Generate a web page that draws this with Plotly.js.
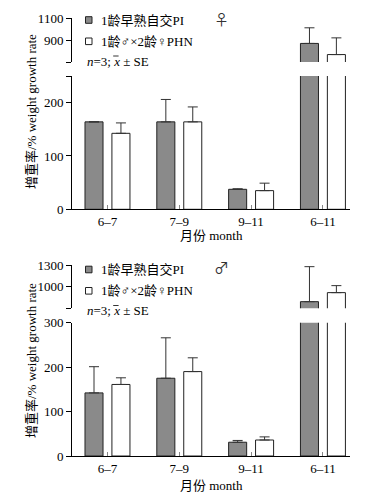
<!DOCTYPE html>
<html><head><meta charset="utf-8">
<script src="https://cdn.plot.ly/plotly-3.0.1.min.js"></script>
<style>html,body{margin:0;padding:0;background:#fff}#chart{width:374px;height:499px}</style>
</head><body><div id="chart"></div>
<script>
// categories
const months = ['6–7', '7–9', '9–11', '6–11'];
const seriesNames = ['1龄早熟自交PI', '1龄♂×2龄♀PHN'];
// female (top panel)
const femalePI = [164, 164, 37.5, 870];
const femalePIse = [0, 42, 1, 143];
const femalePHN = [142.5, 164, 35, 768];
const femalePHNse = [19.5, 28, 14, 153];
// male (bottom panel)
const malePI = [142, 175, 31, 792];
const malePIse = [59, 91, 4, 485];
const malePHN = [161, 190, 36, 917];
const malePHNse = [15, 31, 7, 97];
// tick labels
const topLowTicks = [0, 100, 200, 250], topLowText = ['0', '100', '200', ''];
const topHighTicks = [700, 900, 1100], topHighText = ['', '900', '1100'];
const botLowTicks = [0, 100, 200, 300], botLowText = ['0', '100', '200', '300'];
const botHighTicks = [700, 1000, 1300], botHighText = ['', '1000', '1300'];

const W = 374, H = 499;
const px = v => v / W;
const py = v => 1 - v / H;
const FONT = 'Liberation Serif, Times New Roman, Noto Sans CJK SC, serif';
const PIcolor = '#8a8a8a';

function bar(x, y, se, name, xa, ya, fill) {
  return {
    type: 'bar', x: x, y: y, name: name, xaxis: xa, yaxis: ya, showlegend: false,
    marker: {color: fill, line: {color: '#222', width: 1}},
    error_y: {type: 'data', array: se, arrayminus: se.map(() => 0), symmetric: false,
              color: '#333', thickness: 1, width: 5},
    hoverinfo: 'skip'
  };
}
const traces = [];
[['x', 'y'], ['x', 'y2']].forEach(([xa, ya]) => {
  traces.push(bar(months, femalePI, femalePIse, seriesNames[0], xa, ya, PIcolor));
  traces.push(bar(months, femalePHN, femalePHNse, seriesNames[1], xa, ya, '#ffffff'));
});
[['x2', 'y3'], ['x2', 'y4']].forEach(([xa, ya]) => {
  traces.push(bar(months, malePI, malePIse, seriesNames[0], xa, ya, PIcolor));
  traces.push(bar(months, malePHN, malePHNse, seriesNames[1], xa, ya, '#ffffff'));
});

const xBase = {
  range: [-0.494, 3.377], showline: true, linecolor: '#000', linewidth: 1,
  ticks: 'inside', ticklen: 4, tickcolor: '#888', tickwidth: 1,
  showgrid: false, zeroline: false, tickfont: {family: FONT, size: 13, color: '#000'},
  domain: [px(72), px(350)], fixedrange: true
};
function yAx(range, dom, tv, tt, anchor) {
  return {
    range: range, domain: dom, anchor: anchor, showline: true, linecolor: '#000', linewidth: 1,
    ticks: 'outside', ticklen: 5, tickcolor: '#000', tickvals: tv, ticktext: tt,
    showgrid: false, zeroline: false, tickfont: {family: FONT, size: 13, color: '#000'}
  };
}
const layout = {
  width: W, height: H, margin: {l: 0, r: 0, t: 0, b: 0},
  paper_bgcolor: '#fff', plot_bgcolor: 'rgba(0,0,0,0)',
  barmode: 'group', bargap: 0.25, bargroupgap: 0.33,
  font: {family: FONT, size: 13, color: '#000'},
  xaxis: Object.assign({}, xBase, {anchor: 'y'}),
  xaxis2: Object.assign({}, xBase, {anchor: 'y3'}),
  yaxis: yAx([0, 250], [py(209.3), py(76)], topLowTicks, topLowText, 'x'),
  yaxis2: yAx([700, 1100], [py(62), py(18.3)], topHighTicks, topHighText, 'x'),
  yaxis3: yAx([0, 300], [py(456), py(322.7)], botLowTicks, botLowText, 'x2'),
  yaxis4: yAx([700, 1300], [py(308.3), py(265)], botHighTicks, botHighText, 'x2'),
  annotations: [], shapes: []
};
const panels = [
  {top: 20, sym: '♀', symY: 18, titleY: 112, xTitleY: 235},
  {top: 269.5, sym: '♂', symY: 266, titleY: 361, xTitleY: 485}
];
panels.forEach(p => {
  const lines = [seriesNames[0], seriesNames[1], '<i>n</i>=3; <i>x</i> ± SE'];
  const ys = [p.top, p.top + 21.3, p.top + 41];
  lines.forEach((t, i) => {
    layout.annotations.push({xref: 'paper', yref: 'paper', x: px(i < 2 ? 99 : 85), y: py(ys[i]),
      xanchor: 'left', yanchor: 'middle', text: t, showarrow: false,
      font: {family: FONT, size: 13, color: '#000'}});
  });
  // overline of the mean symbol
  layout.shapes.push({type: 'line', xref: 'paper', yref: 'paper',
    x0: px(113.2), x1: px(118.6), y0: py(ys[2] - 5), y1: py(ys[2] - 5),
    line: {color: '#000', width: 0.8}});
  [PIcolor, '#ffffff'].forEach((c, i) => {
    layout.shapes.push({type: 'rect', xref: 'paper', yref: 'paper',
      x0: px(85.5), x1: px(92), y0: py(ys[i] + 3.3), y1: py(ys[i] - 3.3),
      fillcolor: c, line: {color: '#222', width: 1}});
  });
  layout.annotations.push({xref: 'paper', yref: 'paper', x: px(221), y: py(p.symY),
    xanchor: 'center', yanchor: 'middle', text: p.sym, showarrow: false,
    font: {family: 'Noto Sans CJK SC, sans-serif', size: 15, color: '#333'}});
  layout.annotations.push({xref: 'paper', yref: 'paper', x: px(31), y: py(p.titleY),
    xanchor: 'center', yanchor: 'middle', textangle: -90, text: '增重率/% weight growth rate',
    showarrow: false, font: {family: FONT, size: 13, color: '#000'}});
  layout.annotations.push({xref: 'paper', yref: 'paper', x: px(211), y: py(p.xTitleY),
    xanchor: 'center', yanchor: 'middle', text: '月份 month',
    showarrow: false, font: {family: FONT, size: 13, color: '#000'}});
});
Plotly.newPlot('chart', traces, layout, {staticPlot: true, displayModeBar: false});
</script></body></html>
